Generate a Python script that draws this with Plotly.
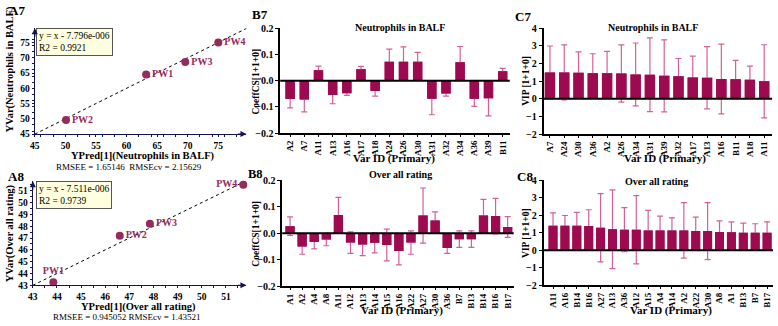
import plotly.graph_objects as go

W, H = 778, 326
FONT = "Liberation Serif"
BAR = "#9e0a50"
ERR = "#d4609a"
PT = "#962a5c"
AX = "#141450"

# ---------------- data ----------------
a7_names = ["PW1", "PW2", "PW3", "PW4"]
a7_pred = [63.2, 50.1, 69.6, 75.0]
a7_obs = [64.5, 49.6, 68.6, 75.0]
a7_pos = ["middle right", "middle right", "middle right", "middle right"]

a8_names = ["PW1", "PW2", "PW3", "PW4"]
a8_pred = [43.85, 46.6, 47.85, 51.72]
a8_obs = [43.25, 47.2, 48.2, 51.5]
a8_pos = ["top center", "middle right", "middle right", "middle left"]

b7_cats = ["A2", "A7", "A11", "A13", "A16", "A17", "A18", "A24", "A26", "A30",
           "A31", "A32", "A34", "A36", "A39", "B11"]
b7_vals = [-0.070, -0.072, 0.040, -0.055, -0.048, 0.043, -0.039, 0.072, 0.072, 0.072,
           -0.069, -0.049, 0.070, -0.069, -0.067, 0.036]
b7_err = [0.034, 0.047, 0.015, 0.033, 0.008, 0.011, 0.020, 0.048, 0.057, 0.036,
          0.061, 0.010, 0.060, 0.029, 0.067, 0.011]

b8_cats = ["A1", "A2", "A4", "A8", "A11", "A12", "A13", "A14", "A15", "A16",
           "A22", "A27", "A30", "A36", "B7", "B13", "B14", "B16", "B17"]
b8_vals = [0.027, -0.050, -0.033, -0.023, 0.069, -0.035, -0.042, -0.036, -0.044, -0.067,
           -0.035, 0.067, 0.048, -0.055, -0.022, -0.022, 0.067, 0.065, 0.024]
b8_err = [0.035, 0.029, 0.026, 0.024, 0.067, 0.041, 0.042, 0.038, 0.060, 0.052,
          0.044, 0.104, 0.033, 0.021, 0.031, 0.031, 0.061, 0.067, 0.039]

c7_cats = ["A7", "A24", "A30", "A36", "A2", "A26", "A34", "A31", "A39", "A32",
           "A17", "A13", "A16", "B11", "A18", "A11"]
c7_vals = [1.49, 1.49, 1.47, 1.45, 1.45, 1.43, 1.38, 1.36, 1.30, 1.27,
           1.21, 1.19, 1.12, 1.10, 1.08, 0.99]
c7_err = [1.50, 1.56, 1.19, 1.10, 1.23, 1.62, 1.78, 2.09, 2.04, 1.01,
          1.21, 1.76, 1.97, 1.07, 0.77, 2.07]

c8_cats = ["A11", "A16", "B14", "B16", "A27", "A13", "A36", "A12", "A15", "A4",
           "A14", "A2", "A22", "A30", "A8", "A1", "B13", "B7", "B17"]
c8_vals = [1.41, 1.41, 1.41, 1.39, 1.29, 1.21, 1.18, 1.18, 1.14, 1.14,
           1.14, 1.14, 1.10, 1.10, 1.05, 1.03, 1.01, 1.00, 1.00]
c8_err = [0.73, 0.58, 0.76, 0.93, 1.95, 2.25, 1.26, 1.95, 1.14, 0.81,
          0.71, 1.59, 0.80, 1.63, 0.63, 0.60, 0.55, 0.52, 0.63]

a7_line = [45, 80]
a8_line = [43, 52]


def px(x):
    return x / W


def py(y):
    return 1 - y / H


fig = go.Figure()

# ---------- scatter panels ----------
for (xa, ya, xs, ys, names, pos, line) in [
    ("x", "y", a7_pred, a7_obs, a7_names, a7_pos, a7_line),
    ("x4", "y4", a8_pred, a8_obs, a8_names, a8_pos, a8_line),
]:
    fig.add_trace(go.Scatter(x=line, y=line, mode="lines", xaxis=xa, yaxis=ya,
                             line=dict(color="black", width=1, dash="dot"),
                             showlegend=False, hoverinfo="skip"))
    fig.add_trace(go.Scatter(x=xs, y=ys, mode="markers+text", text=names,
                             textposition=pos, xaxis=xa, yaxis=ya,
                             marker=dict(color=PT, size=8),
                             textfont=dict(family=FONT, size=10, color=PT, weight="bold"),
                             cliponaxis=False, showlegend=False))

# ---------- bar panels (error bars underneath, bars on an overlay subplot on top) ----------
bar_panels = [
    ("x2", "y2", "x7", "y7", b7_cats, b7_vals, b7_err, 0.66),
    ("x3", "y3", "x8", "y8", c7_cats, c7_vals, c7_err, 0.72),
    ("x5", "y5", "x9", "y9", b8_cats, b8_vals, b8_err, 0.76),
    ("x6", "y6", "x10", "y10", c8_cats, c8_vals, c8_err, 0.75),
]
for (xa, ya, xo, yo, cats, vals, errs, w) in bar_panels:
    fig.add_trace(go.Bar(x=cats, y=vals, xaxis=xa, yaxis=ya, width=w,
                         marker=dict(color=BAR, line=dict(width=0)),
                         error_y=dict(type="data", array=errs, symmetric=True,
                                      color=ERR, thickness=1.2, width=3),
                         showlegend=False))
    fig.add_trace(go.Bar(x=cats, y=vals, xaxis=xo, yaxis=yo, width=w,
                         marker=dict(color=BAR, line=dict(width=0)),
                         showlegend=False))

tickf = dict(family=FONT, size=10, color="black", weight="bold")
tickf_sc = dict(family=FONT, size=9.5, color="black", weight="bold")

sc_common = dict(showline=True, linecolor=AX, linewidth=1.2, ticks="outside",
                 ticklen=2, tickcolor=AX, tickfont=tickf_sc, showgrid=False,
                 zeroline=False, minor=dict(ticks="outside", ticklen=1.5, tickcolor=AX))

bar_x = dict(showline=True, linecolor="black", linewidth=1.5, ticks="outside",
             ticklen=2, tickcolor="black", tickangle=-90,
             tickfont=dict(family=FONT, size=9, color="black", weight="bold"),
             showgrid=False, zeroline=False, type="category")
bar_y = dict(showline=True, linecolor="black", linewidth=1.5, ticks="outside",
             ticklen=3, tickcolor="black", tickfont=tickf, showgrid=False,
             zeroline=False)

hidden = dict(visible=False, showgrid=False, zeroline=False)

fig.update_layout(
    width=W, height=H, margin=dict(l=0, r=0, t=0, b=0),
    paper_bgcolor="white", plot_bgcolor="white", barmode="overlay",
    font=dict(family=FONT, color="black"),
    # A7
    xaxis=dict(domain=[px(30), px(243)], range=[45, 79.6], anchor="y",
               tickvals=[45, 50, 55, 60, 65, 70, 75], **sc_common),
    yaxis=dict(domain=[py(133), py(23)], range=[45, 79.7], anchor="x",
               tickvals=[45, 50, 55, 60, 65, 70, 75], **sc_common),
    # A8
    xaxis4=dict(domain=[px(28), px(243)], range=[43, 51.85], anchor="y4",
                tickvals=[43, 44, 45, 46, 47, 48, 49, 50, 51], **sc_common),
    yaxis4=dict(domain=[py(290), py(182)], range=[43, 51.8], anchor="x4",
                tickvals=[43, 44, 45, 46, 47, 48, 49, 50, 51], **sc_common),
    # B7
    xaxis2=dict(domain=[px(277), px(508)], range=[-0.7, 15.5], anchor="y2", **bar_x),
    yaxis2=dict(domain=[py(132), py(23)], range=[-0.2, 0.2], anchor="x2",
                tickvals=[-0.2, -0.1, 0, 0.1, 0.2], tickformat=".1f", **bar_y),
    xaxis7=dict(overlaying="x2", anchor="y7", type="category", range=[-0.7, 15.5], **hidden),
    yaxis7=dict(overlaying="y2", anchor="x7", range=[-0.2, 0.2], **hidden),
    # C7
    xaxis3=dict(domain=[px(542), px(772)], range=[-0.45, 15.55], anchor="y3", **bar_x),
    yaxis3=dict(domain=[py(133), py(23)], range=[-2, 4], anchor="x3",
                tickvals=[-2, -1, 0, 1, 2, 3, 4], **bar_y),
    xaxis8=dict(overlaying="x3", anchor="y8", type="category", range=[-0.45, 15.55], **hidden),
    yaxis8=dict(overlaying="y3", anchor="x8", range=[-2, 4], **hidden),
    # B8
    xaxis5=dict(domain=[px(279), px(512)], range=[-0.65, 18.5], anchor="y5", **bar_x),
    yaxis5=dict(domain=[py(291), py(181)], range=[-0.2, 0.2], anchor="x5",
                tickvals=[-0.2, -0.1, 0, 0.1, 0.2], tickformat=".1f", **bar_y),
    xaxis9=dict(overlaying="x5", anchor="y9", type="category", range=[-0.65, 18.5], **hidden),
    yaxis9=dict(overlaying="y5", anchor="x9", range=[-0.2, 0.2], **hidden),
    # C8
    xaxis6=dict(domain=[px(542), px(773)], range=[-0.8, 18.5], anchor="y6", **bar_x),
    yaxis6=dict(domain=[py(290), py(181)], range=[-2, 4], anchor="x6",
                tickvals=[-2, -1, 0, 1, 2, 3, 4], **bar_y),
    xaxis10=dict(overlaying="x6", anchor="y10", type="category", range=[-0.8, 18.5], **hidden),
    yaxis10=dict(overlaying="y6", anchor="x10", range=[-2, 4], **hidden),
)

# zero lines drawn above the bars
for (xa, ya) in [("x2", "y2"), ("x3", "y3"), ("x5", "y5"), ("x6", "y6")]:
    fig.add_shape(type="line", xref=xa + " domain", yref=ya, x0=0, x1=1, y0=0, y1=0,
                  line=dict(color="black", width=2), layer="above")

ann = []


def text(x, y, s, size=11, bold=True, angle=0, xanchor="center", yanchor="middle", color="black"):
    ann.append(dict(x=px(x), y=py(y), xref="paper", yref="paper", text=s, showarrow=False,
                    textangle=angle, xanchor=xanchor, yanchor=yanchor,
                    font=dict(family=FONT, size=size, color=color,
                              weight="bold" if bold else "normal")))


# panel labels
text(2, 5, "A7", 13, xanchor="left")
text(1, 177, "A8", 13, xanchor="left")
text(247, 9, "B7", 13, xanchor="left")
text(243, 174, "B8", 12.5, xanchor="left")
text(511, 11, "C7", 13, xanchor="left")
text(513, 177, "C8", 13, xanchor="left")

# scatter axis titles
text(5, 133, "YVar(Neutrophils in BALF)", 10.5, angle=-90, yanchor="bottom")
text(139, 156, "YPred[1](Neutrophils in BALF)", 10.5)
text(125, 167, "RMSEE = 1.65146  RMSEcv = 2.15629", 9, bold=False)
text(5, 236, "YVar(Over all rating)", 10.5, angle=-90)
text(134, 313, "YPred[1](Over all rating)", 10.5)
text(122, 323, "RMSEE = 0.945052 RMSEcv = 1.43521", 9, bold=False)

# bar titles
text(398, 22, "Neutrophils in BALF", 10)
text(652, 22, "Neutrophils in BALF", 10)
text(398, 175, "Over all rating", 10)
text(656, 182, "Over all rating", 10)
text(253, 78, "CoeffCS[1+1+0]", 9.5, angle=-90)
text(253, 236, "CoeffCS[1+1+0]", 9.5, angle=-90)
text(525, 78, "VIP [1+1+0]", 9.5, angle=-90)
text(525, 236, "VIP [1+1+0]", 9.5, angle=-90)
text(392, 158, "Var ID (Primary)", 11)
text(664, 158, "Var ID (Primary)", 11)
text(400, 316, "Var ID (Primary)", 11)
text(670, 316, "Var ID (Primary)", 11)

# equation boxes
for (x0, y0, s) in [(31, 23, "y = x - 7.796e-006<br>R2 = 0.9921"),
                    (31, 182, "y = x - 7.511e-006<br>R2 = 0.9739")]:
    ann.append(dict(x=px(x0), y=py(y0), xref="paper", yref="paper", text=s,
                    showarrow=False, xanchor="left", yanchor="top", align="left",
                    bgcolor="#ffffe0", bordercolor="#555555", borderwidth=1, borderpad=2,
                    font=dict(family=FONT, size=9.5, color="black")))

# axis arrows
for (xr, yr, x, y, dx, dy) in [("x", "y", 79.6, 45, -10, 0), ("x", "y", 45, 79.7, 0, 10),
                               ("x4", "y4", 51.85, 43, -10, 0), ("x4", "y4", 43, 51.8, 0, 10)]:
    ann.append(dict(x=x, y=y, xref=xr, yref=yr, ax=dx, ay=dy, text="", showarrow=True,
                    arrowhead=2, arrowsize=1, arrowwidth=1.2, arrowcolor=AX))

fig.update_layout(annotations=ann)
fig.write_html("out.html")
